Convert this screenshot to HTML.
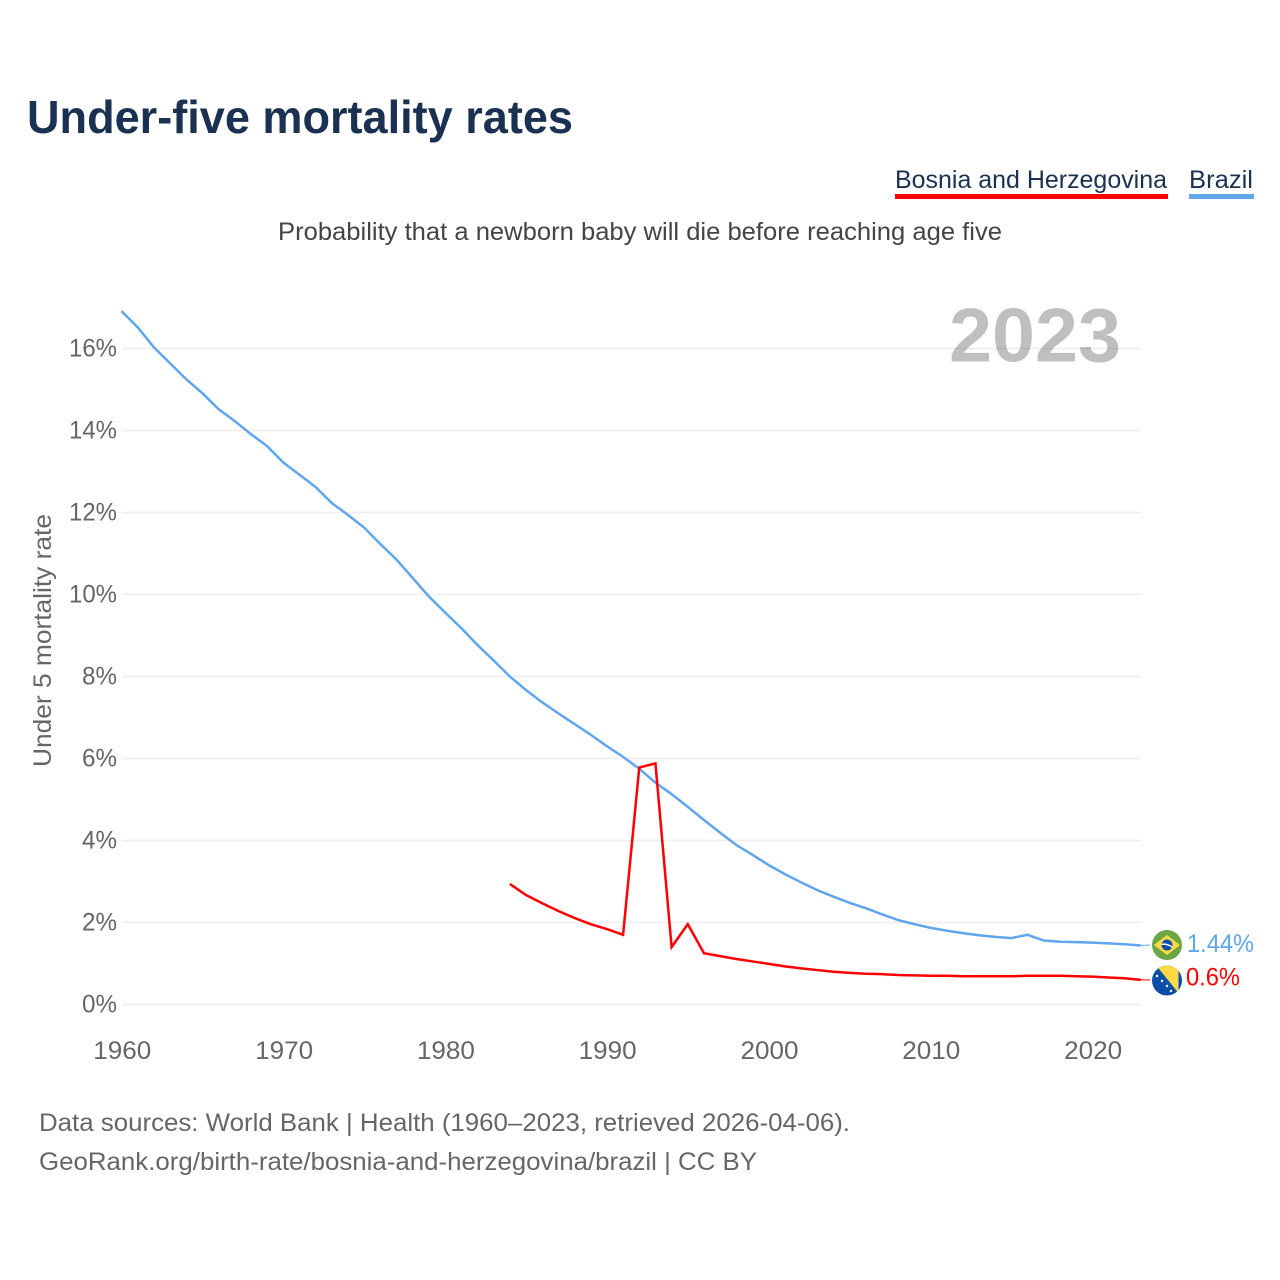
<!DOCTYPE html>
<html lang="en">
<head>
<meta charset="utf-8">
<title>Under-five mortality rates</title>
<style>
html,body{margin:0;padding:0;background:#fff;width:1280px;height:1280px;overflow:hidden}
svg{display:block}
text{font-family:"Liberation Sans",sans-serif}
</style>
</head>
<body>
<svg id="chart" xmlns="http://www.w3.org/2000/svg" width="1280" height="1280" viewBox="0 0 1280 1280">
  <defs>
    <clipPath id="clip-br"><circle cx="1167" cy="945" r="15"/></clipPath>
    <clipPath id="clip-ba"><circle cx="1167" cy="980.5" r="15"/></clipPath>
  </defs>
  <rect width="1280" height="1280" fill="#fff"/>
  <text x="27" y="133" font-size="46" font-weight="700" fill="#1a3152" textLength="546" lengthAdjust="spacingAndGlyphs">Under-five mortality rates</text>

  <g>
    <text x="895" y="188" font-size="25" fill="#1a3152" textLength="272" lengthAdjust="spacingAndGlyphs">Bosnia and Herzegovina</text>
    <rect x="895" y="194" width="273" height="5" fill="#ff0000"/>
  </g>
  <g>
    <text x="1189" y="188" font-size="25" fill="#1a3152" textLength="64" lengthAdjust="spacingAndGlyphs">Brazil</text>
    <rect x="1189" y="194" width="65" height="5" fill="#5fa6ec"/>
  </g>

  <text x="278" y="240" font-size="25" fill="#444" textLength="724" lengthAdjust="spacingAndGlyphs">Probability that a newborn baby will die before reaching age five</text>
  <text transform="translate(51,767) rotate(-90)" font-size="25" fill="#666" textLength="253" lengthAdjust="spacingAndGlyphs">Under 5 mortality rate</text>

  <g id="grid"></g>
  <g id="yticks"></g>
  <g id="xticks"></g>

  <text x="949" y="361.5" font-size="76" font-weight="700" fill="#000" fill-opacity="0.25" textLength="172" lengthAdjust="spacingAndGlyphs">2023</text>

  <g id="series"></g>

  <g clip-path="url(#clip-br)">
    <rect x="1152" y="930" width="30" height="30" fill="#6da544"/>
    <polygon points="1167,935 1180,945 1167,955 1154,945" fill="#ffda44"/>
    <circle cx="1167" cy="945" r="5.5" fill="#0b4fa8"/>
    <path d="M1161.6,943.6 Q1167,942.4 1172.3,946.4 L1172,947.8 Q1167,944.2 1161.5,945 Z" fill="#fff"/>
  </g>
  <g clip-path="url(#clip-ba)">
    <rect x="1152" y="965" width="30" height="31" fill="#0b4fa8"/>
    <polygon points="1155,964 1178.5,964 1178.5,993" fill="#ffda44"/>
    <g fill="#fff">
      <circle cx="1157" cy="976" r="1.2"/>
      <circle cx="1162" cy="981" r="1.2"/>
      <circle cx="1167" cy="986" r="1.2"/>
      <circle cx="1171" cy="991" r="1.2"/>
    </g>
  </g>

  <text x="1187" y="952" font-size="25" fill="#5fa6ec" textLength="67" lengthAdjust="spacingAndGlyphs">1.44%</text>
  <text x="1186" y="985.5" font-size="25" fill="#ff0000" textLength="54" lengthAdjust="spacingAndGlyphs">0.6%</text>

  <text x="39" y="1131" font-size="25" fill="#666" textLength="811" lengthAdjust="spacingAndGlyphs">Data sources: World Bank | Health (1960–2023, retrieved 2026-04-06).</text>
  <text x="39" y="1170" font-size="25" fill="#666" textLength="718" lengthAdjust="spacingAndGlyphs">GeoRank.org/birth-rate/bosnia-and-herzegovina/brazil | CC BY</text>
</svg>
<script>
var yTickValues = [0, 2, 4, 6, 8, 10, 12, 14, 16];
var xTickYears = [1960, 1970, 1980, 1990, 2000, 2010, 2020];
var brazilStartYear = 1960;
var brazilValues = [16.91, 16.52, 16.03, 15.64, 15.25, 14.91, 14.52, 14.23, 13.91, 13.62,
  13.22, 12.92, 12.62, 12.23, 11.94, 11.63, 11.23, 10.85, 10.4, 9.95,
  9.56, 9.18, 8.77, 8.39, 8.0, 7.67, 7.37, 7.1, 6.84, 6.58,
  6.3, 6.04, 5.75, 5.41, 5.13, 4.82, 4.5, 4.19, 3.89, 3.65,
  3.4, 3.18, 2.98, 2.79, 2.63, 2.48, 2.35, 2.2, 2.06, 1.96,
  1.87, 1.8, 1.74, 1.69, 1.65, 1.62, 1.7, 1.56, 1.53, 1.52,
  1.51, 1.49, 1.47, 1.44];
var bosniaStartYear = 1984;
var bosniaValues = [2.94, 2.67, 2.47, 2.28, 2.11, 1.96, 1.84, 1.7, 5.78, 5.88,
  1.4, 1.96, 1.25, 1.18, 1.11, 1.05, 0.99, 0.93, 0.88, 0.84,
  0.8, 0.77, 0.75, 0.74, 0.72, 0.71, 0.7, 0.7, 0.69, 0.69,
  0.69, 0.69, 0.7, 0.7, 0.7, 0.69, 0.68, 0.66, 0.64, 0.6];

var SVGNS = 'http://www.w3.org/2000/svg';
function xScale(year) { return 121.5 + (year - 1960) * 16.18; }
function yScale(pct) { return 1004.5 - pct * 41; }
function make(tag, parent) {
  var el = document.createElementNS(SVGNS, tag);
  parent.appendChild(el);
  return el;
}
var gridGroup = document.getElementById('grid');
var yGroup = document.getElementById('yticks');
var xGroup = document.getElementById('xticks');
var seriesGroup = document.getElementById('series');

yTickValues.forEach(function (v) {
  var line = make('line', gridGroup);
  
  
  line.setAttribute('x1', 122);
  line.setAttribute('x2', 1141);
  line.setAttribute('y1', yScale(v));
  line.setAttribute('y2', yScale(v));
  line.setAttribute('stroke', '#eeeeee');
  line.setAttribute('stroke-width', 1.5);
  var label = make('text', yGroup);
  
  
  label.setAttribute('x', 117);
  label.setAttribute('y', yScale(v) + 8);
  label.setAttribute('text-anchor', 'end');
  label.setAttribute('font-size', 25);
  label.setAttribute('fill', '#666');
  label.setAttribute('textLength', v >= 10 ? 48 : 35);
  label.setAttribute('lengthAdjust', 'spacingAndGlyphs');
  label.textContent = v + '%';
});

xTickYears.forEach(function (yr) {
  var label = make('text', xGroup);
  
  
  label.setAttribute('x', xScale(yr) + 0.8);
  label.setAttribute('y', 1059);
  label.setAttribute('text-anchor', 'middle');
  label.setAttribute('font-size', 25);
  label.setAttribute('fill', '#666');
  label.setAttribute('textLength', 58);
  label.setAttribute('lengthAdjust', 'spacingAndGlyphs');
  label.textContent = yr;
});

function seriesPoints(startYear, values) {
  return values.map(function (v, i) {
    return xScale(startYear + i).toFixed(2) + ',' + yScale(v).toFixed(2);
  }).join(' ');
}

var brazilLine = make('polyline', seriesGroup);


brazilLine.setAttribute('points', seriesPoints(brazilStartYear, brazilValues));
brazilLine.setAttribute('fill', 'none');
brazilLine.setAttribute('stroke', '#5fa6ec');
brazilLine.setAttribute('stroke-width', 2.5);

var bosniaLine = make('polyline', seriesGroup);


bosniaLine.setAttribute('points', seriesPoints(bosniaStartYear, bosniaValues));
bosniaLine.setAttribute('fill', 'none');
bosniaLine.setAttribute('stroke', '#ff0000');
bosniaLine.setAttribute('stroke-width', 2.5);

var brazilLast = brazilValues[brazilValues.length - 1];
var brazilConnector = make('line', seriesGroup);


brazilConnector.setAttribute('x1', xScale(2023));
brazilConnector.setAttribute('x2', 1150);
brazilConnector.setAttribute('y1', yScale(brazilLast));
brazilConnector.setAttribute('y2', 945);
brazilConnector.setAttribute('stroke', '#5fa6ec');
brazilConnector.setAttribute('stroke-width', 1);

var bosniaLast = bosniaValues[bosniaValues.length - 1];
var bosniaConnector = make('line', seriesGroup);


bosniaConnector.setAttribute('x1', xScale(2023));
bosniaConnector.setAttribute('x2', 1150);
bosniaConnector.setAttribute('y1', yScale(bosniaLast));
bosniaConnector.setAttribute('y2', 980);
bosniaConnector.setAttribute('stroke', '#ff0000');
bosniaConnector.setAttribute('stroke-width', 1);
</script>
</body>
</html>
